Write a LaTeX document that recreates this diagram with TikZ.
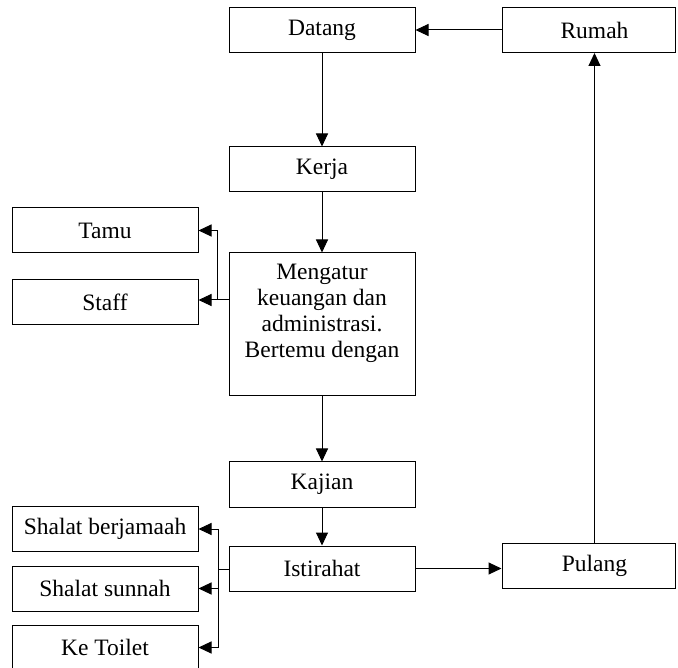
\documentclass[tikz,border=0pt]{standalone}
\usepackage{fontspec}
\setmainfont{Liberation Serif}
\usetikzlibrary{arrows.meta}
\begin{document}
\begin{tikzpicture}[x=1pt,y=-1pt,
  box/.style={draw, line width=1pt, minimum width=186pt, minimum height=45pt,
    inner sep=0pt, font=\fontsize{23.5}{26}\selectfont},
  wide/.style={box, minimum width=173pt},
  conn/.style={line width=1pt, -{Triangle[length=13pt,width=12pt]}},
  plain/.style={line width=1pt}]
\useasboundingbox (0,0) rectangle (678,668);

% main column
\node[box] (datang) at (322,30) {Datang};
\node[box] (kerja) at (322,169.5) {Kerja};
\node[box, minimum height=143pt] (mengatur) at (322,324.5) {};
\node[anchor=north, inner sep=0pt, align=center,
  font=\fontsize{23.5}{26}\selectfont] (mengaturtxt) at (322,264)
  {Mengatur\\keuangan dan\\administrasi.\\Bertemu dengan};
\node[box] (kajian) at (322,484.5) {Kajian};
\node[box] (istirahat) at (322,568.5) {Istirahat};

% right column
\node[wide] (rumah) at (588.5,30) {\hspace{12pt}Rumah};
\node[wide] (pulang) at (588.5,565.5) {\hspace{12pt}Pulang};

% left branches
\node[box] (tamu) at (105,230.5) {Tamu};
\node[box] (staff) at (105,302.5) {Staff};
\node[box] (berjamaah) at (105,529) {Shalat berjamaah};
\node[box] (sunnah) at (105,588.5) {Shalat sunnah};
\node[box] (toilet) at (105,647.5) {Ke Toilet};

% main flow
\draw[conn] (rumah) -- (datang);
\draw[conn] (datang) -- (kerja);
\draw[conn] (kerja) -- (mengatur);
\draw[conn] (mengatur) -- (kajian);
\draw[conn] (kajian) -- (istirahat);
\draw[conn] (istirahat) -- (istirahat -| pulang.west);
\draw[conn] ([xshift=6pt]pulang.north) -- ([xshift=6pt]rumah.south);

% branch from Mengatur
\coordinate (mj) at (217,300);
\draw[plain] (mengatur.west |- mj) -- (mj);
\draw[conn] (mj) |- (tamu.east);
\draw[conn] (mj) -- (mj -| staff.east);

% branch from Istirahat
\coordinate (ij) at (218,569);
\draw[plain] (istirahat.west |- ij) -- (ij);
\draw[conn] (ij) |- (berjamaah.east);
\draw[conn] (ij) |- (sunnah.east);
\draw[conn] (ij) |- (toilet.east);
\end{tikzpicture}
\end{document}
